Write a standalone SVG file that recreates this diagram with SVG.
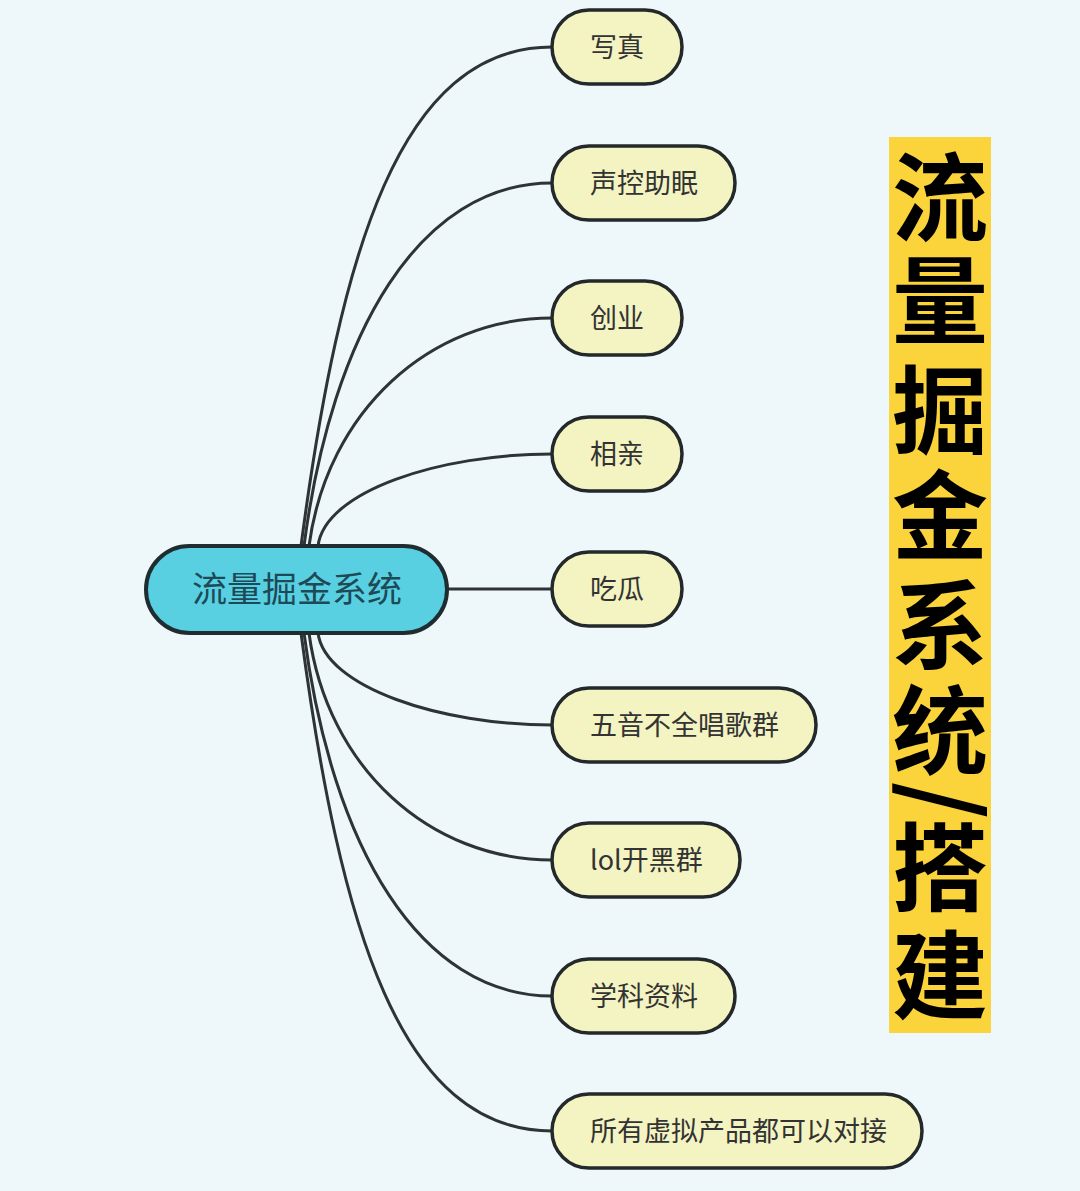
<svg xmlns="http://www.w3.org/2000/svg" width="1080" height="1191" viewBox="0 0 1080 1191">
<style>
.bg{fill:#eef8fb}
.edge{fill:none;stroke:#2e3436;stroke-width:3}
.root rect{fill:#58d0e2;stroke:#1f2c30;stroke-width:4}
.root text{font-family:"Noto Sans CJK SC","Noto Sans",sans-serif;font-size:35px;fill:#1d4a56;text-anchor:middle}
.leaf rect{fill:#f3f4c2;stroke:#23282a;stroke-width:3.5}
.leaf text{font-family:"Noto Sans CJK SC","Noto Sans",sans-serif;font-size:27px;fill:#333}
.banner rect{fill:#fbd33a}
.banner text{font-family:"Noto Sans CJK SC",sans-serif;font-size:96px;font-weight:bold;fill:#000;writing-mode:vertical-rl}
</style>
<rect class="bg" x="0" y="0" width="1080" height="1191"/>
<g id="connectors">
<path class="edge" d="M301,546 C340,250 400,47 552,47"/>
<path class="edge" d="M304,546 C332,331 420,183 552,183"/>
<path class="edge" d="M309,546 C327,411 430,318 552,318"/>
<path class="edge" d="M318,546 C325,491 440,454 552,454"/>
<path class="edge" d="M447,589 L552,589"/>
<path class="edge" d="M318,633 C325,687 440,725 552,725"/>
<path class="edge" d="M309,633 C327,768 430,860 552,860"/>
<path class="edge" d="M304,633 C332,848 420,996 552,996"/>
<path class="edge" d="M301,633 C340,928 400,1131 552,1131"/>
</g>
<g id="root" class="root">
<rect x="146" y="546" width="301" height="87" rx="43.5"/>
<text x="297" y="602">流量掘金系统</text>
</g>
<g id="n1" class="leaf"><rect x="552" y="10" width="130" height="74" rx="37"/><text x="590" y="57">写真</text></g>
<g id="n2" class="leaf"><rect x="552" y="146" width="183" height="74" rx="37"/><text x="590" y="193">声控助眠</text></g>
<g id="n3" class="leaf"><rect x="552" y="281" width="130" height="74" rx="37"/><text x="590" y="328">创业</text></g>
<g id="n4" class="leaf"><rect x="552" y="417" width="130" height="74" rx="37"/><text x="590" y="464">相亲</text></g>
<g id="n5" class="leaf"><rect x="552" y="552" width="130" height="74" rx="37"/><text x="590" y="599">吃瓜</text></g>
<g id="n6" class="leaf"><rect x="552" y="688" width="264" height="74" rx="37"/><text x="590" y="735">五音不全唱歌群</text></g>
<g id="n7" class="leaf"><rect x="552" y="823" width="188" height="74" rx="37"/><text x="590" y="870">lol开黑群</text></g>
<g id="n8" class="leaf"><rect x="552" y="959" width="183" height="74" rx="37"/><text x="590" y="1006">学科资料</text></g>
<g id="n9" class="leaf"><rect x="552" y="1094" width="370" height="74" rx="37"/><text x="590" y="1141">所有虚拟产品都可以对接</text></g>
<g id="banner" class="banner">
<rect x="889" y="137" width="102" height="896"/>
<text x="940 940 940 940 940 940 951 940 940" y="149 252 362 467 577 682 782 819 927">流量掘金系统/搭建</text>
</g>
</svg>
